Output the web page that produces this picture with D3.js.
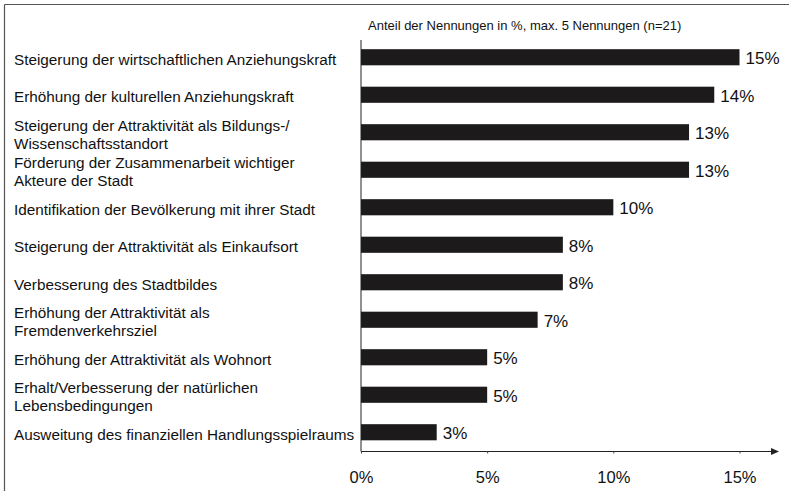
<!DOCTYPE html>
<html>
<head>
<meta charset="utf-8">
<script src="https://cdn.jsdelivr.net/npm/d3@7"></script>
<style>
  body { margin: 0; background: #fff; }
  svg { display: block; font-family: Arial, "Liberation Sans", sans-serif; }
</style>
</head>
<body>
<div id="chart"></div>
<script>
const categories = [
    ['Steigerung der wirtschaftlichen Anziehungskraft'],
    ['Erhöhung der kulturellen Anziehungskraft'],
    ['Steigerung der Attraktivität als Bildungs-/', 'Wissenschaftsstandort'],
    ['Förderung der Zusammenarbeit wichtiger', 'Akteure der Stadt'],
    ['Identifikation der Bevölkerung mit ihrer Stadt'],
    ['Steigerung der Attraktivität als Einkaufsort'],
    ['Verbesserung des Stadtbildes'],
    ['Erhöhung der Attraktivität als', 'Fremdenverkehrsziel'],
    ['Erhöhung der Attraktivität als Wohnort'],
    ['Erhalt/Verbesserung der natürlichen', 'Lebensbedingungen'],
    ['Ausweitung des finanziellen Handlungsspielraums']
];
const values = [15, 14, 13, 13, 10, 8, 8, 7, 5, 5, 3];
const ticks = [0, 5, 10, 15];
const title = 'Anteil der Nennungen in %, max. 5 Nennungen (n=21)';

const width = 789;
const height = 491;
const svg = d3.select('#chart').append('svg')
    .attr('width', width)
    .attr('height', height);

// frame (only top and left edges are visible in the scan)
svg.append('line').attr('x1', 4.5).attr('x2', width).attr('y1', 4.5).attr('y2', 4.5)
    .attr('stroke', '#555').attr('stroke-width', 1.2);
svg.append('line').attr('x1', 4.5).attr('x2', 4.5).attr('y1', 4.5).attr('y2', height)
    .attr('stroke', '#555').attr('stroke-width', 1.2);

const xScale = d3.scaleLinear().domain([0, 15]).range([361, 739.5]);
const yScale = d3.scaleBand().domain(d3.range(categories.length))
    .range([38.5, 451]).paddingInner(0.57).paddingOuter(0.285);

svg.append('text')
    .attr('x', 368)
    .attr('y', 29.5)
    .attr('fill', '#111')
    .style('font-size', '13px')
    .text(title);

svg.selectAll('.bar')
    .data(values)
    .enter()
    .append('rect')
    .attr('x', xScale(0))
    .attr('y', (d, i) => yScale(i))
    .attr('width', d => xScale(d) - xScale(0))
    .attr('height', yScale.bandwidth())
    .attr('fill', '#1c1a1a');

svg.selectAll('.val')
    .data(values)
    .enter()
    .append('text')
    .attr('x', d => xScale(d) + 6)
    .attr('y', (d, i) => yScale(i) + yScale.bandwidth() / 2 + 1)
    .attr('dy', '0.36em')
    .attr('fill', '#111')
    .style('font-size', '17px')
    .text(d => d + '%');

const labels = svg.selectAll('.cat')
    .data(categories)
    .enter()
    .append('text')
    .attr('x', 14)
    .attr('y', (d, i) => yScale(i) + yScale.bandwidth() / 2 + 2)
    .attr('fill', '#111')
    .style('font-size', '15.3px');
labels.selectAll('tspan')
    .data(d => d.map((t, j) => ({ t, j, n: d.length })))
    .enter()
    .append('tspan')
    .attr('x', 14)
    .attr('dy', d => d.j === 0 ? ((0.36 - (d.n - 1) * 0.58) + 'em') : '1.16em')
    .text(d => d.t);

// axes
svg.append('line')
    .attr('x1', xScale(0)).attr('x2', xScale(0))
    .attr('y1', 40).attr('y2', 451.5)
    .attr('stroke', '#222').attr('stroke-width', 1);
svg.append('line')
    .attr('x1', xScale(0)).attr('x2', 772)
    .attr('y1', 451.5).attr('y2', 451.5)
    .attr('stroke', '#222').attr('stroke-width', 1);
svg.append('path')
    .attr('d', 'M771,448 L779,451.5 L771,455 Z')
    .attr('fill', '#222');

const xAxis = d3.axisBottom(xScale).tickValues(ticks).tickSize(2).tickPadding(18)
    .tickFormat(d => d + '%');
const axisG = svg.append('g')
    .attr('transform', 'translate(0, 451.5)')
    .call(xAxis);
axisG.select('.domain').remove();
axisG.selectAll('line').attr('stroke', '#444');
axisG.selectAll('text')
    .attr('fill', '#111')
    .style('font-size', '16.5px')
    .style('font-family', 'Arial, "Liberation Sans", sans-serif');
</script>
</body>
</html>
